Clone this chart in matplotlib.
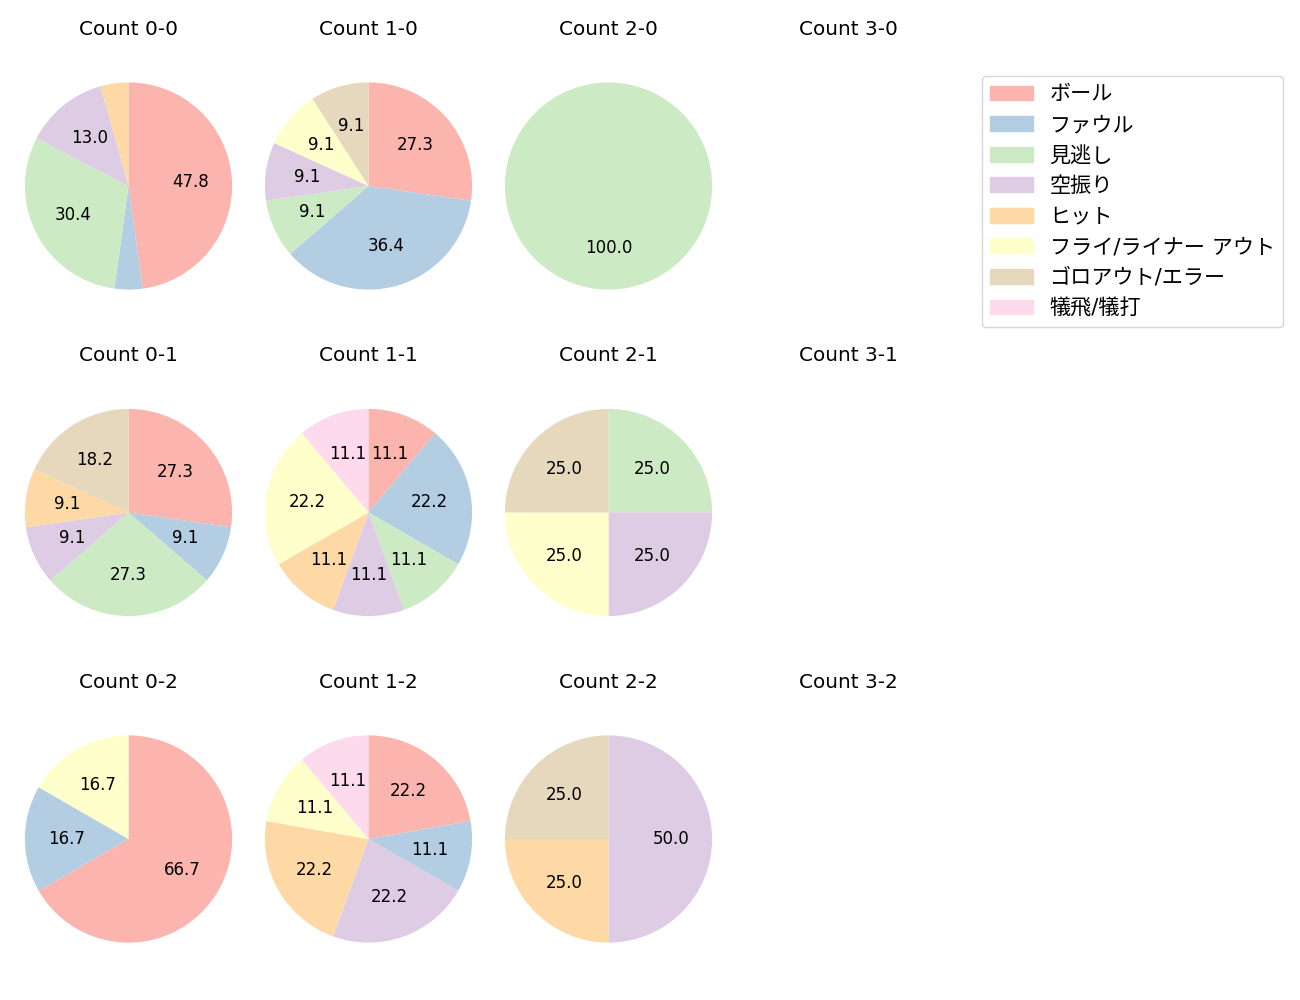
import matplotlib
matplotlib.use("Agg")
import matplotlib.pyplot as plt
import numpy as np

plt.rcParams['font.family'] = ['DejaVu Sans', 'Noto Sans CJK JP']
plt.rcParams['font.size'] = 12

categories = ['ボール', 'ファウル', '見逃し', '空振り', 'ヒット',
              'フライ/ライナー アウト', 'ゴロアウト/エラー', '犠飛/犠打']

titles = ['Count 0-0', 'Count 1-0', 'Count 2-0', 'Count 3-0',
          'Count 0-1', 'Count 1-1', 'Count 2-1', 'Count 3-1',
          'Count 0-2', 'Count 1-2', 'Count 2-2', 'Count 3-2']

c00 = [11, 1, 7, 3, 1, 0, 0, 0]
c10 = [3, 4, 1, 1, 0, 1, 1, 0]
c20 = [0, 0, 1, 0, 0, 0, 0, 0]
c30 = []
c01 = [3, 1, 3, 1, 1, 0, 2, 0]
c11 = [1, 2, 1, 1, 1, 2, 0, 1]
c21 = [0, 0, 1, 1, 0, 1, 1, 0]
c31 = []
c02 = [4, 1, 0, 0, 0, 1, 0, 0]
c12 = [2, 1, 0, 2, 2, 1, 0, 1]
c22 = [0, 0, 0, 2, 1, 0, 1, 0]
c32 = []
series = [c00, c10, c20, c30, c01, c11, c21, c31, c02, c12, c22, c32]

colors = plt.get_cmap('Pastel1').colors[:8]

W, H = 1300, 1000
fig = plt.figure(figsize=(13, 10), dpi=100)

col_centers = [128.5, 368.5, 608.5, 848.5]
row_centers = [186, 512.5, 839]
side = 259

for i, (title, vals) in enumerate(zip(titles, series)):
    r, c = divmod(i, 4)
    cx, cy = col_centers[c], row_centers[r]
    ax = fig.add_axes([(cx - side / 2) / W, 1 - (cy + side / 2) / H,
                       side / W, side / H])
    ax.set_title(title, fontsize=14.4, pad=15.6)
    if len(vals) == 0 or sum(vals) == 0:
        ax.axis('off')
        continue
    v = np.array(vals, dtype=float)
    mask = v > 0
    ax.pie(v[mask], colors=[colors[k] for k in range(8) if mask[k]],
           startangle=90, counterclock=False,
           autopct=lambda p: f'{p:.1f}' if p >= 5 else '',
           textprops={'fontsize': 12})
    ax.set_aspect('equal')

handles = [matplotlib.patches.Patch(color=colors[k]) for k in range(8)]
fig.legend(handles, categories, loc='upper left',
           bbox_to_anchor=(982 / W, 1 - 76 / H), fontsize=15.2,
           borderaxespad=0)

fig.savefig('out.png', dpi=100)
